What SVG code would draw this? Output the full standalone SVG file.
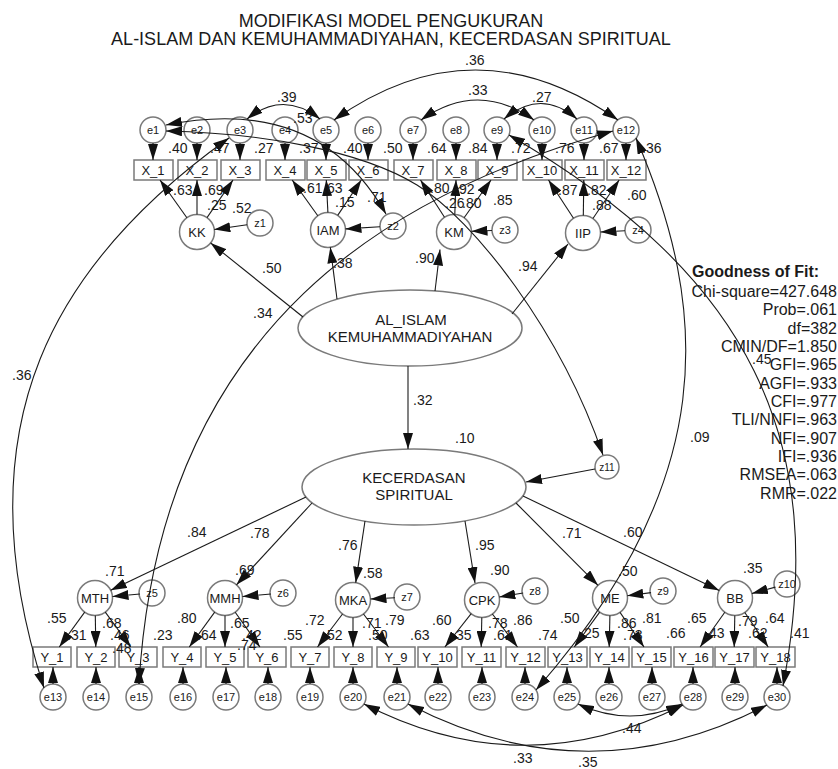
<svg xmlns="http://www.w3.org/2000/svg" width="838" height="769" viewBox="0 0 838 769">
<style>
.t{font-family:"Liberation Sans",Arial,sans-serif;fill:#1a1a1a}
.title{font-size:18px;text-anchor:middle}
.num{font-size:14px}
.shp{fill:#fff;stroke:#7a7a7a;stroke-width:1.5}
.lat{font-size:13px;text-anchor:middle}
.err{font-size:11px;text-anchor:middle}
.bl{font-size:13px;text-anchor:middle}
.ell{font-size:15px;text-anchor:middle}
.gof{font-size:16px;text-anchor:end}
.a{fill:none;stroke:#1a1a1a;stroke-width:1.1;marker-end:url(#ah)}
.c{fill:none;stroke:#1a1a1a;stroke-width:1.1;marker-start:url(#ah);marker-end:url(#ah)}
</style>
<defs>
<marker id="ah" viewBox="0 0 16 10" refX="16" refY="5" markerWidth="16" markerHeight="10" markerUnits="userSpaceOnUse" orient="auto-start-reverse"><path d="M0,0 L16,5 L0,10 z" fill="#111"/></marker>
</defs>
<rect width="838" height="769" fill="#fff"/>
<g id="title" class="t title">
<text x="391" y="27">MODIFIKASI MODEL PENGUKURAN</text>
<text x="391" y="45">AL-ISLAM DAN KEMUHAMMADIYAHAN, KECERDASAN SPIRITUAL</text>
</g>
<g id="e1"><circle class="shp" cx="153" cy="130" r="13"/><text class="t err" x="153" y="134">e1</text></g>
<g id="e2"><circle class="shp" cx="197" cy="130" r="13"/><text class="t err" x="197" y="134">e2</text></g>
<g id="e3"><circle class="shp" cx="240" cy="130" r="13"/><text class="t err" x="240" y="134">e3</text></g>
<g id="e4"><circle class="shp" cx="285" cy="130" r="13"/><text class="t err" x="285" y="134">e4</text></g>
<g id="e5"><circle class="shp" cx="326" cy="130" r="13"/><text class="t err" x="326" y="134">e5</text></g>
<g id="e6"><circle class="shp" cx="368" cy="130" r="13"/><text class="t err" x="368" y="134">e6</text></g>
<g id="e7"><circle class="shp" cx="413" cy="130" r="13"/><text class="t err" x="413" y="134">e7</text></g>
<g id="e8"><circle class="shp" cx="456" cy="130" r="13"/><text class="t err" x="456" y="134">e8</text></g>
<g id="e9"><circle class="shp" cx="497" cy="130" r="13"/><text class="t err" x="497" y="134">e9</text></g>
<g id="e10"><circle class="shp" cx="542" cy="130" r="13"/><text class="t err" x="542" y="134">e10</text></g>
<g id="e11"><circle class="shp" cx="584" cy="130" r="13"/><text class="t err" x="584" y="134">e11</text></g>
<g id="e12"><circle class="shp" cx="626" cy="130" r="13"/><text class="t err" x="626" y="134">e12</text></g>
<g id="X_1"><rect class="shp" x="134" y="160" width="39" height="20"/><text class="t bl" x="153" y="175">X_1</text></g>
<g id="X_2"><rect class="shp" x="178" y="160" width="39" height="20"/><text class="t bl" x="197" y="175">X_2</text></g>
<g id="X_3"><rect class="shp" x="221" y="160" width="39" height="20"/><text class="t bl" x="240" y="175">X_3</text></g>
<g id="X_4"><rect class="shp" x="266" y="160" width="39" height="20"/><text class="t bl" x="285" y="175">X_4</text></g>
<g id="X_5"><rect class="shp" x="307" y="160" width="39" height="20"/><text class="t bl" x="326" y="175">X_5</text></g>
<g id="X_6"><rect class="shp" x="349" y="160" width="39" height="20"/><text class="t bl" x="368" y="175">X_6</text></g>
<g id="X_7"><rect class="shp" x="394" y="160" width="39" height="20"/><text class="t bl" x="413" y="175">X_7</text></g>
<g id="X_8"><rect class="shp" x="437" y="160" width="39" height="20"/><text class="t bl" x="456" y="175">X_8</text></g>
<g id="X_9"><rect class="shp" x="478" y="160" width="39" height="20"/><text class="t bl" x="497" y="175">X_9</text></g>
<g id="X_10"><rect class="shp" x="523" y="160" width="39" height="20"/><text class="t bl" x="542" y="175">X_10</text></g>
<g id="X_11"><rect class="shp" x="565" y="160" width="39" height="20"/><text class="t bl" x="584" y="175">X_11</text></g>
<g id="X_12"><rect class="shp" x="607" y="160" width="39" height="20"/><text class="t bl" x="626" y="175">X_12</text></g>
<g id="KK"><circle class="shp" cx="197" cy="232" r="17.5"/><text class="t lat" x="197" y="237">KK</text></g>
<g id="IAM"><circle class="shp" cx="328" cy="230" r="17.5"/><text class="t lat" x="328" y="235">IAM</text></g>
<g id="KM"><circle class="shp" cx="454" cy="232" r="17.5"/><text class="t lat" x="454" y="237">KM</text></g>
<g id="IIP"><circle class="shp" cx="583" cy="233" r="17.5"/><text class="t lat" x="583" y="238">IIP</text></g>
<g id="z1"><circle class="shp" cx="260" cy="223" r="13"/><text class="t err" x="260" y="227">z1</text></g>
<g id="z2"><circle class="shp" cx="393" cy="226" r="13"/><text class="t err" x="393" y="230">z2</text></g>
<g id="z3"><circle class="shp" cx="505" cy="230" r="13"/><text class="t err" x="505" y="234">z3</text></g>
<g id="z4"><circle class="shp" cx="638" cy="230" r="13"/><text class="t err" x="638" y="234">z4</text></g>
<g id="AL_ISLAM"><ellipse class="shp" cx="410" cy="328" rx="112" ry="38"/><text class="t ell" x="411" y="325">AL_ISLAM</text><text class="t ell" x="410" y="342">KEMUHAMMADIYAHAN</text></g>
<g id="KECERDASAN"><ellipse class="shp" cx="414" cy="487" rx="112" ry="38"/><text class="t ell" x="414" y="483">KECERDASAN</text><text class="t ell" x="414" y="500">SPIRITUAL</text></g>
<g id="z11"><circle class="shp" cx="607" cy="467" r="12"/><text class="t" x="607" y="471" font-size="10" text-anchor="middle">z11</text></g>
<g id="MTH"><circle class="shp" cx="95" cy="598" r="17.5"/><text class="t lat" x="95" y="603">MTH</text></g>
<g id="MMH"><circle class="shp" cx="225" cy="598" r="17.5"/><text class="t lat" x="225" y="603">MMH</text></g>
<g id="MKA"><circle class="shp" cx="353" cy="600" r="17.5"/><text class="t lat" x="353" y="605">MKA</text></g>
<g id="CPK"><circle class="shp" cx="482" cy="600" r="17.5"/><text class="t lat" x="482" y="605">CPK</text></g>
<g id="ME"><circle class="shp" cx="610" cy="598" r="17.5"/><text class="t lat" x="610" y="603">ME</text></g>
<g id="BB"><circle class="shp" cx="735" cy="598" r="17.5"/><text class="t lat" x="735" y="603">BB</text></g>
<g id="z5"><circle class="shp" cx="152" cy="593" r="13"/><text class="t err" x="152" y="597">z5</text></g>
<g id="z6"><circle class="shp" cx="283" cy="593" r="13"/><text class="t err" x="283" y="597">z6</text></g>
<g id="z7"><circle class="shp" cx="407" cy="597" r="13"/><text class="t err" x="407" y="601">z7</text></g>
<g id="z8"><circle class="shp" cx="535" cy="591" r="13"/><text class="t err" x="535" y="595">z8</text></g>
<g id="z9"><circle class="shp" cx="663" cy="591" r="13"/><text class="t err" x="663" y="595">z9</text></g>
<g id="z10"><circle class="shp" cx="787" cy="584" r="13"/><text class="t err" x="787" y="588">z10</text></g>
<g id="Y_1"><rect class="shp" x="33" y="647" width="38" height="20"/><text class="t bl" x="52" y="662">Y_1</text></g>
<g id="Y_2"><rect class="shp" x="77" y="647" width="38" height="20"/><text class="t bl" x="96" y="662">Y_2</text></g>
<g id="Y_3"><rect class="shp" x="119" y="647" width="38" height="20"/><text class="t bl" x="138" y="662">Y_3</text></g>
<g id="Y_4"><rect class="shp" x="163" y="647" width="38" height="20"/><text class="t bl" x="182" y="662">Y_4</text></g>
<g id="Y_5"><rect class="shp" x="206" y="647" width="38" height="20"/><text class="t bl" x="225" y="662">Y_5</text></g>
<g id="Y_6"><rect class="shp" x="248" y="647" width="38" height="20"/><text class="t bl" x="267" y="662">Y_6</text></g>
<g id="Y_7"><rect class="shp" x="291" y="647" width="38" height="20"/><text class="t bl" x="310" y="662">Y_7</text></g>
<g id="Y_8"><rect class="shp" x="334" y="647" width="38" height="20"/><text class="t bl" x="353" y="662">Y_8</text></g>
<g id="Y_9"><rect class="shp" x="377" y="647" width="38" height="20"/><text class="t bl" x="396" y="662">Y_9</text></g>
<g id="Y_10"><rect class="shp" x="418" y="647" width="39" height="20"/><text class="t bl" x="437.5" y="662">Y_10</text></g>
<g id="Y_11"><rect class="shp" x="462" y="647" width="39" height="20"/><text class="t bl" x="481.5" y="662">Y_11</text></g>
<g id="Y_12"><rect class="shp" x="506" y="647" width="39" height="20"/><text class="t bl" x="525.5" y="662">Y_12</text></g>
<g id="Y_13"><rect class="shp" x="548" y="647" width="39" height="20"/><text class="t bl" x="567.5" y="662">Y_13</text></g>
<g id="Y_14"><rect class="shp" x="590" y="647" width="39" height="20"/><text class="t bl" x="609.5" y="662">Y_14</text></g>
<g id="Y_15"><rect class="shp" x="632" y="647" width="39" height="20"/><text class="t bl" x="651.5" y="662">Y_15</text></g>
<g id="Y_16"><rect class="shp" x="674" y="647" width="39" height="20"/><text class="t bl" x="693.5" y="662">Y_16</text></g>
<g id="Y_17"><rect class="shp" x="715" y="647" width="39" height="20"/><text class="t bl" x="734.5" y="662">Y_17</text></g>
<g id="Y_18"><rect class="shp" x="756" y="647" width="39" height="20"/><text class="t bl" x="775.5" y="662">Y_18</text></g>
<g id="e13"><circle class="shp" cx="53" cy="697" r="13"/><text class="t err" x="53" y="701">e13</text></g>
<g id="e14"><circle class="shp" cx="96" cy="697" r="13"/><text class="t err" x="96" y="701">e14</text></g>
<g id="e15"><circle class="shp" cx="139" cy="697" r="13"/><text class="t err" x="139" y="701">e15</text></g>
<g id="e16"><circle class="shp" cx="183" cy="697" r="13"/><text class="t err" x="183" y="701">e16</text></g>
<g id="e17"><circle class="shp" cx="226" cy="697" r="13"/><text class="t err" x="226" y="701">e17</text></g>
<g id="e18"><circle class="shp" cx="268" cy="697" r="13"/><text class="t err" x="268" y="701">e18</text></g>
<g id="e19"><circle class="shp" cx="310" cy="697" r="13"/><text class="t err" x="310" y="701">e19</text></g>
<g id="e20"><circle class="shp" cx="353" cy="697" r="13"/><text class="t err" x="353" y="701">e20</text></g>
<g id="e21"><circle class="shp" cx="397" cy="697" r="13"/><text class="t err" x="397" y="701">e21</text></g>
<g id="e22"><circle class="shp" cx="438" cy="697" r="13"/><text class="t err" x="438" y="701">e22</text></g>
<g id="e23"><circle class="shp" cx="482" cy="697" r="13"/><text class="t err" x="482" y="701">e23</text></g>
<g id="e24"><circle class="shp" cx="525" cy="697" r="13"/><text class="t err" x="525" y="701">e24</text></g>
<g id="e25"><circle class="shp" cx="567" cy="697" r="13"/><text class="t err" x="567" y="701">e25</text></g>
<g id="e26"><circle class="shp" cx="609" cy="697" r="13"/><text class="t err" x="609" y="701">e26</text></g>
<g id="e27"><circle class="shp" cx="652" cy="697" r="13"/><text class="t err" x="652" y="701">e27</text></g>
<g id="e28"><circle class="shp" cx="693" cy="697" r="13"/><text class="t err" x="693" y="701">e28</text></g>
<g id="e29"><circle class="shp" cx="735" cy="697" r="13"/><text class="t err" x="735" y="701">e29</text></g>
<g id="e30"><circle class="shp" cx="777" cy="697" r="13"/><text class="t err" x="777" y="701">e30</text></g>
<g id="connectors">
<line class="a" x1="153" y1="143" x2="153" y2="160"/><line class="a" x1="197" y1="143" x2="197" y2="160"/><line class="a" x1="240" y1="143" x2="240" y2="160"/><line class="a" x1="285" y1="143" x2="285" y2="160"/><line class="a" x1="326" y1="143" x2="326" y2="160"/><line class="a" x1="368" y1="143" x2="368" y2="160"/><line class="a" x1="413" y1="143" x2="413" y2="160"/><line class="a" x1="456" y1="143" x2="456" y2="160"/><line class="a" x1="497" y1="143" x2="497" y2="160"/><line class="a" x1="542" y1="143" x2="542" y2="160"/><line class="a" x1="584" y1="143" x2="584" y2="160"/><line class="a" x1="626" y1="143" x2="626" y2="160"/>
<line class="a" x1="186.9" y1="217.7" x2="160" y2="180"/><line class="a" x1="197" y1="214.5" x2="197" y2="180"/><line class="a" x1="207" y1="217.6" x2="233" y2="180"/>
<line class="a" x1="317.8" y1="215.8" x2="292.2" y2="180"/><line class="a" x1="327.9" y1="212.5" x2="326.3" y2="180"/><line class="a" x1="337.7" y1="215.4" x2="361.3" y2="180"/>
<line class="a" x1="444.5" y1="217.3" x2="420.5" y2="180"/><line class="a" x1="454.8" y1="214.5" x2="456" y2="180"/><line class="a" x1="464.1" y1="217.7" x2="491" y2="180"/>
<line class="a" x1="573.5" y1="218.3" x2="548.5" y2="180"/><line class="a" x1="583.3" y1="215.5" x2="583.8" y2="180"/><line class="a" x1="592.9" y1="218.5" x2="619.2" y2="180"/>
<line class="a" x1="247.1" y1="224.8" x2="214.3" y2="229.5"/><line class="a" x1="380" y1="226.8" x2="345.5" y2="228.9"/><line class="a" x1="492" y1="230.5" x2="471.5" y2="231.3"/><line class="a" x1="625" y1="230.7" x2="600.5" y2="232"/>
<line class="a" x1="303" y1="317" x2="210.6" y2="242.9"/><line class="a" x1="337" y1="299" x2="330.3" y2="247.3"/><line class="a" x1="435" y1="291" x2="440" y2="249.5"/><line class="a" x1="512" y1="314" x2="568" y2="244"/>
<line class="a" x1="408" y1="366" x2="408" y2="449"/>
<line class="a" x1="595" y1="469" x2="526" y2="482"/>
<line class="a" x1="306" y1="497" x2="110.7" y2="590.3"/><line class="a" x1="312" y1="503" x2="236.5" y2="584.8"/><line class="a" x1="365" y1="521" x2="355.7" y2="582.7"/><line class="a" x1="465" y1="521" x2="475" y2="583"/><line class="a" x1="516" y1="503" x2="598" y2="585.3"/><line class="a" x1="523" y1="496" x2="719.3" y2="590.4"/>
<line class="a" x1="140" y1="594" x2="112.5" y2="596.5"/><line class="a" x1="271" y1="594" x2="242.5" y2="596.5"/><line class="a" x1="395" y1="597.7" x2="370.5" y2="599"/><line class="a" x1="523.2" y1="593" x2="499.3" y2="597"/><line class="a" x1="651.1" y1="592.6" x2="627.3" y2="595.7"/><line class="a" x1="775.4" y1="587.1" x2="751.9" y2="593.5"/>
<line class="a" x1="84.7" y1="612.1" x2="59.3" y2="647"/><line class="a" x1="95.3" y1="615.5" x2="95.8" y2="647"/><line class="a" x1="105.3" y1="612.1" x2="130.7" y2="647"/>
<line class="a" x1="214.7" y1="612.1" x2="189.3" y2="647"/><line class="a" x1="225" y1="615.5" x2="225" y2="647"/><line class="a" x1="235.2" y1="612.3" x2="259.9" y2="647"/>
<line class="a" x1="342.5" y1="614" x2="317.5" y2="647"/><line class="a" x1="353" y1="617.5" x2="353" y2="647"/><line class="a" x1="363.5" y1="614" x2="388.5" y2="647"/>
<line class="a" x1="471.2" y1="613.7" x2="444.9" y2="647"/><line class="a" x1="481.8" y1="617.5" x2="481.2" y2="647"/><line class="a" x1="492.4" y1="614" x2="517.5" y2="647"/>
<line class="a" x1="599.7" y1="612.1" x2="574.3" y2="647"/><line class="a" x1="609.9" y1="615.5" x2="609.2" y2="647"/><line class="a" x1="620" y1="612.4" x2="644" y2="647"/>
<line class="a" x1="724.8" y1="612.3" x2="700.1" y2="647"/><line class="a" x1="734.8" y1="615.5" x2="734.2" y2="647"/><line class="a" x1="744.8" y1="612.5" x2="768.2" y2="647"/>
<line class="a" x1="53" y1="684" x2="53" y2="667"/><line class="a" x1="96" y1="684" x2="96" y2="667"/><line class="a" x1="139" y1="684" x2="139" y2="667"/><line class="a" x1="183" y1="684" x2="183" y2="667"/><line class="a" x1="226" y1="684" x2="226" y2="667"/><line class="a" x1="268" y1="684" x2="268" y2="667"/><line class="a" x1="310" y1="684" x2="310" y2="667"/><line class="a" x1="353" y1="684" x2="353" y2="667"/><line class="a" x1="397" y1="684" x2="397" y2="667"/><line class="a" x1="438" y1="684" x2="438" y2="667"/><line class="a" x1="482" y1="684" x2="482" y2="667"/><line class="a" x1="525" y1="684" x2="525" y2="667"/><line class="a" x1="567" y1="684" x2="567" y2="667"/><line class="a" x1="609" y1="684" x2="609" y2="667"/><line class="a" x1="652" y1="684" x2="652" y2="667"/><line class="a" x1="693" y1="684" x2="693" y2="667"/><line class="a" x1="735" y1="684" x2="735" y2="667"/><line class="a" x1="777" y1="684" x2="777" y2="667"/>
<path class="c" d="M247,119Q283,90 320,119"/>
<path class="c" d="M334,120Q475,20 618,120"/>
<path class="c" d="M421,120Q478,80 534,120"/>
<path class="c" d="M504,119Q541,88 577,119"/>
<path class="c" d="M166,125C240,110 330,115 386,214"/>
<path class="c" d="M166,131C260,133 360,150 417,185S560,330 603,455"/>
<path class="c" d="M229,138C58,260 -42,422 44,688"/>
<path class="c" d="M613,131C400,190 160,320 139,684"/>
<path class="c" d="M636,138C710,310 720,480 536,690"/>
<path class="c" d="M509,135C750,275 830,440 783,686"/>
<path class="c" d="M364,704Q523,786 683,705"/>
<path class="c" d="M408,704Q588,798 767,705"/>
<path class="c" d="M578,704Q630,728 682,704"/>
</g>
<g id="labels" class="t num">
<text x="277" y="102">.39</text><text x="293" y="123">.53</text><text x="465" y="65">.36</text><text x="468" y="95">.33</text><text x="532" y="102">.27</text>
<text x="168" y="153">.40</text><text x="210" y="153">.47</text><text x="254" y="153">.27</text><text x="299" y="153">.37</text><text x="343" y="153">.40</text><text x="383" y="153">.50</text><text x="427" y="153">.64</text><text x="468" y="153">.84</text><text x="511" y="153">.72</text><text x="555" y="153">.76</text><text x="599" y="153">.67</text><text x="642" y="153">.36</text>
<text x="173" y="195">.63</text><text x="204" y="195">.69</text><text x="207" y="210">.25</text><text x="232" y="213">.52</text>
<text x="303" y="193">.61</text><text x="323" y="193">.63</text><text x="335" y="207">.15</text><text x="367" y="202">.71</text>
<text x="430" y="193">.80</text><text x="455" y="194">.92</text><text x="445" y="208">.26</text><text x="462" y="208">.80</text><text x="493" y="205">.85</text>
<text x="558" y="195">.87</text><text x="587" y="195">.82</text><text x="592" y="210">.88</text><text x="627" y="200">.60</text>
<text x="262" y="273">.50</text><text x="333" y="268">.38</text><text x="415" y="263">.90</text><text x="518" y="271">.94</text>
<text x="253" y="318">.34</text><text x="12" y="380">.36</text><text x="413" y="405">.32</text><text x="455" y="443">.10</text><text x="690" y="442">.09</text><text x="752" y="364">.45</text>
<text x="187" y="537">.84</text><text x="250" y="538">.78</text><text x="338" y="550">.76</text><text x="475" y="550">.95</text><text x="562" y="538">.71</text><text x="623" y="537">.60</text>
<text x="105" y="576">.71</text><text x="235" y="575">.69</text><text x="363" y="578">.58</text><text x="490" y="575">.90</text><text x="618" y="576">.50</text><text x="743" y="573">.35</text>
<text x="47" y="623">.55</text><text x="67" y="640">.31</text><text x="102" y="628">.68</text><text x="110" y="640">.46</text><text x="112" y="653">.48</text><text x="153" y="640">.23</text>
<text x="177" y="623">.80</text><text x="197" y="640">.64</text><text x="230" y="628">.65</text><text x="242" y="640">.42</text><text x="237" y="650">.74</text><text x="283" y="640">.55</text>
<text x="305" y="625">.72</text><text x="323" y="640">.52</text><text x="362" y="628">.71</text><text x="368" y="640">.50</text><text x="385" y="625">.79</text><text x="410" y="640">.63</text>
<text x="432" y="625">.60</text><text x="452" y="640">.35</text><text x="488" y="628">.78</text><text x="493" y="640">.61</text><text x="513" y="625">.86</text><text x="538" y="640">.74</text>
<text x="560" y="623">.50</text><text x="580" y="638">.25</text><text x="617" y="628">.86</text><text x="623" y="640">.73</text><text x="642" y="623">.81</text><text x="666" y="638">.66</text>
<text x="687" y="623">.65</text><text x="705" y="638">.43</text><text x="738" y="626">.79</text><text x="748" y="638">.62</text><text x="765" y="623">.64</text><text x="790" y="638">.41</text>
<text x="622" y="733">.44</text><text x="513" y="763">.33</text><text x="578" y="767">.35</text>
</g>
<g id="goodness" class="t">
<text x="692" y="277" font-size="16" font-weight="bold">Goodness of Fit:</text>
<text class="gof" x="837" y="297">Chi-square=427.648</text>
<text class="gof" x="837" y="315">Prob=.061</text>
<text class="gof" x="837" y="333.5">df=382</text>
<text class="gof" x="837" y="352">CMIN/DF=1.850</text>
<text class="gof" x="837" y="370">GFI=.965</text>
<text class="gof" x="837" y="388.5">AGFI=.933</text>
<text class="gof" x="837" y="407">CFI=.977</text>
<text class="gof" x="837" y="425">TLI/NNFI=.963</text>
<text class="gof" x="837" y="443.5">NFI=.907</text>
<text class="gof" x="837" y="462">IFI=.936</text>
<text class="gof" x="837" y="480">RMSEA=.063</text>
<text class="gof" x="837" y="498.5">RMR=.022</text>
</g>
</svg>
